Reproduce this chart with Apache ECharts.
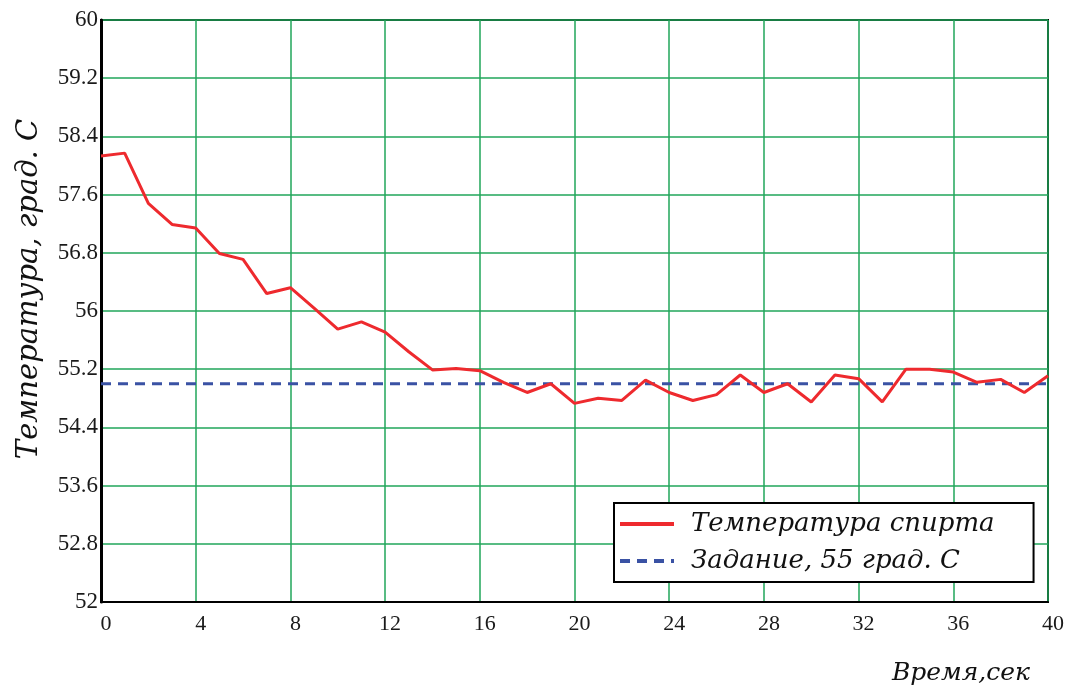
<!DOCTYPE html>
<html>
<head>
<meta charset="utf-8">
<script src="https://cdn.jsdelivr.net/npm/echarts@6/dist/echarts.min.js"></script>
<style>html,body{margin:0;padding:0;background:#fff}#c{width:1067px;height:686px}</style>
</head>
<body>
<div id="c"></div>
<script>
const timeSec = [0,1,2,3,4,5,6,7,8,9,10,11,12,13,14,15,16,17,18,19,20,21,22,23,24,25,26,27,28,29,30,31,32,33,34,35,36,37,38,39,40];
const tempValues = [58.13,58.17,57.48,57.19,57.14,56.79,56.71,56.24,56.32,56.04,55.75,55.85,55.71,55.44,55.19,55.21,55.18,55.02,54.88,55.0,54.73,54.80,54.77,55.05,54.88,54.77,54.85,55.12,54.88,55.0,54.75,55.12,55.07,54.75,55.2,55.2,55.16,55.02,55.06,54.88,55.11];
const setpointX = [0,40];
const setpointValues = [55,55];
const seriesNames = ['Температура спирта','Задание, 55 град. С'];
const xAxisTitle = 'Время,сек';
const yAxisTitle = 'Температура, град. С';

const chart = echarts.init(document.getElementById('c'));
const serif = '"DejaVu Serif", serif';
const times = 'Liberation Serif';
chart.setOption({
  animation:false,
  backgroundColor:'#fff',
  grid:{left:101,right:18,top:20,bottom:84,show:true,borderColor:'#000',borderWidth:2,containLabel:false},
  legend:{
    orient:'vertical', left:614, top:503,
    borderColor:'#000', borderWidth:2, backgroundColor:'#fff',
    padding:[8,39,8,4], itemGap:11, itemWidth:54, itemHeight:14,
    itemStyle:{opacity:0},
    lineStyle:{width:4},
    textStyle:{fontFamily:serif, fontStyle:'italic', fontSize:26, color:'#111', padding:[0,0,0,12]},
    data:[{name:seriesNames[0]},{name:seriesNames[1]}]
  },
  xAxis:{
    type:'value', min:0, max:40, interval:4,
    axisLine:{show:true,lineStyle:{color:'#000',width:2}},
    axisTick:{show:false},
    axisLabel:{fontFamily:times,fontSize:22,color:'#1a1a1a',margin:11,padding:[0,0,0,10]},
    splitLine:{show:true,lineStyle:{color:'#21a65a',width:1.5}},
    name:xAxisTitle, nameLocation:'end', nameGap:0,
    nameTextStyle:{fontFamily:serif,fontStyle:'italic',fontSize:25,color:'#111',align:'right',verticalAlign:'top',padding:[59,18,0,0]}
  },
  yAxis:{
    type:'value', min:52, max:60, interval:0.8,
    axisLine:{show:true,lineStyle:{color:'#000',width:3}},
    axisTick:{show:false},
    axisLabel:{fontFamily:times,fontSize:23,color:'#1a1a1a',margin:3,padding:[4,0,0,0],
      formatter:v=>String(Math.round(v*10)/10)},
    splitLine:{show:true,lineStyle:{color:'#21a65a',width:1.5}},
    name:yAxisTitle, nameLocation:'middle', nameGap:57, nameRotate:90,
    nameTextStyle:{fontFamily:serif,fontStyle:'italic',fontSize:29,color:'#111',padding:[0,0,0,44]}
  },
  series:[
    {name:seriesNames[0],type:'line',symbol:'none',
     data:timeSec.map((t,i)=>[t,tempValues[i]]),
     lineStyle:{color:'#ee2a2e',width:3},itemStyle:{color:'#ee2a2e'},z:3},
    {name:seriesNames[1],type:'line',symbol:'none',
     data:setpointX.map((t,i)=>[t,setpointValues[i]]),
     lineStyle:{color:'#3a52a4',width:3,type:[10,7]},itemStyle:{color:'#3a52a4'},z:2}
  ]
});
</script>
</body>
</html>
